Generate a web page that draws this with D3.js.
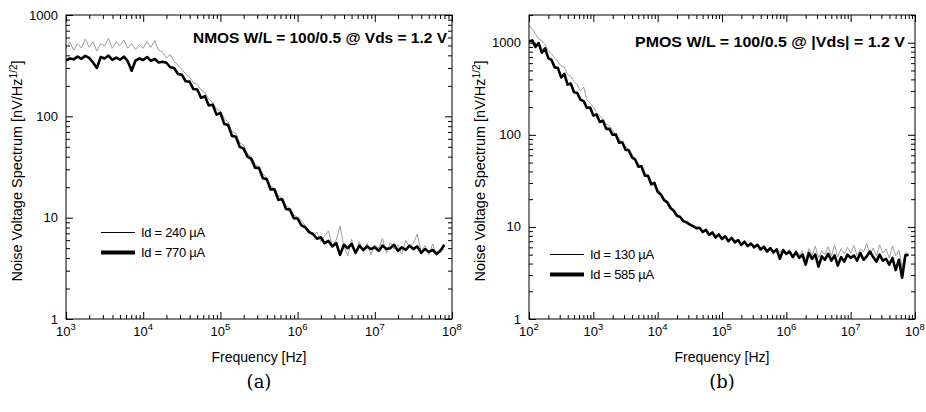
<!DOCTYPE html>
<html>
<head>
<meta charset="utf-8">
<script src="https://cdn.jsdelivr.net/npm/d3@7"></script>
<style>
  body { margin: 0; background: #fff; }
  text { font-family: "Liberation Sans", Arial, sans-serif; fill: #000; }
</style>
</head>
<body>
<div id="chart"></div>
<script>
// log10 of frequency, panel (a) NMOS
let expA = [
  3.00,3.05,3.10,3.15,3.20,3.25,3.30,3.35,3.40,3.45,3.50,3.55,3.60,3.65,3.70,3.75,3.80,3.85,3.90,3.95,
  4.00,4.05,4.10,4.15,4.20,4.25,4.30,4.35,4.40,4.45,4.50,4.55,4.60,4.65,4.70,4.75,4.80,4.85,4.90,4.95,
  5.00,5.05,5.10,5.15,5.20,5.25,5.30,5.35,5.40,5.45,5.50,5.55,5.60,5.65,5.70,5.75,5.80,5.85,5.90,5.95,
  6.00,6.05,6.10,6.15,6.20,6.25,6.30,6.35,6.40,6.45,6.50,6.55,6.60,6.65,6.70,6.75,6.80,6.85,6.90,6.95,
  7.00,7.05,7.10,7.15,7.20,7.25,7.30,7.35,7.40,7.45,7.50,7.55,7.60,7.65,7.70,7.75,7.80,7.85,7.90
];
// Id = 240 uA (thin)
let nmosThin = [
  470,540,450,520,470,580,480,545,440,525,490,590,470,540,500,565,470,520,455,510,
  470,545,480,560,450,430,378,405,352,318,292,262,246,214,206,182,170,148,137,118,
  112,96,88,70,68,55,52,43,40,34,31.5,27,25,20.5,19.5,16.5,15.6,13.2,12.4,10.6,
  10.2,9.3,8.4,7.4,6.6,7.2,5.8,6.6,7.4,5.3,6.0,8.2,5.2,4.2,6.1,4.4,5.8,4.6,5.6,4.3,
  5.4,5.0,6.2,4.5,5.7,4.9,5.4,4.4,6.0,5.1,5.6,6.9,4.6,5.3,4.3,5.5,4.2,5.0,4.8
];
// Id = 770 uA (thick)
let nmosThick = [
  355,372,365,388,370,395,378,340,300,385,372,398,360,380,362,388,350,282,355,372,
  360,385,352,368,340,345,338,305,300,262,258,222,220,186,184,152,158,128,130,104,
  108,84,82,64,63,50,48,40,38,31,31,24.5,24,19,19,15,15.2,12.2,12,9.9,
  9.8,8.4,8.0,7.2,6.9,6.2,6.4,5.6,5.9,5.2,5.6,4.3,5.4,5.0,5.5,4.5,5.3,4.8,5.2,4.9,
  5.1,4.7,5.3,4.9,5.0,5.4,4.7,5.1,4.8,5.3,4.9,5.2,4.5,4.9,4.6,4.8,4.4,4.7,5.4
];

// log10 of frequency, panel (b) PMOS
let expB = [
  2.00,2.05,2.10,2.15,2.20,2.25,2.30,2.35,2.40,2.45,2.50,2.55,2.60,2.65,2.70,2.75,2.80,2.85,2.90,2.95,
  3.00,3.05,3.10,3.15,3.20,3.25,3.30,3.35,3.40,3.45,3.50,3.55,3.60,3.65,3.70,3.75,3.80,3.85,3.90,3.95,
  4.00,4.05,4.10,4.15,4.20,4.25,4.30,4.35,4.40,4.45,4.50,4.55,4.60,4.65,4.70,4.75,4.80,4.85,4.90,4.95,
  5.00,5.05,5.10,5.15,5.20,5.25,5.30,5.35,5.40,5.45,5.50,5.55,5.60,5.65,5.70,5.75,5.80,5.85,5.90,5.95,
  6.00,6.05,6.10,6.15,6.20,6.25,6.30,6.35,6.40,6.45,6.50,6.55,6.60,6.65,6.70,6.75,6.80,6.85,6.90,6.95,
  7.00,7.05,7.10,7.15,7.20,7.25,7.30,7.35,7.40,7.45,7.50,7.55,7.60,7.65,7.70,7.75,7.80,7.85,7.90
];
// Id = 130 uA (thin)
let pmosThin = [
  1550,1400,1250,1100,1050,950,820,760,680,620,560,540,450,430,380,350,300,330,240,220,
  200,175,160,148,132,125,112,100,92,82,76,68,62,55,49,45,39,36,31,29.5,
  26,23,20.5,18.5,16.8,15,13.8,12.5,12,11,10.9,10.2,9.8,9.6,8.8,9.3,8.0,8.5,7.4,8.1,
  7.2,7.8,7.0,7.4,6.6,7.3,6.3,7.0,6.1,6.7,5.9,6.5,5.6,6.2,5.5,6.0,5.0,5.9,5.3,5.8,
  5.2,5.7,4.8,5.6,5.0,5.5,4.4,5.8,4.9,6.2,4.6,5.5,5.0,6.1,4.8,6.4,4.7,5.8,5.1,6.0,
  5.2,6.3,4.9,5.7,5.4,6.6,5.0,5.9,4.8,6.4,5.2,5.8,4.6,6.2,4.9,5.6,3.6,5.3,4.8
];
// Id = 585 uA (thick)
let pmosThick = [
  1030,1060,900,990,780,870,680,650,540,530,420,460,350,360,290,285,240,232,196,198,
  162,166,138,142,116,116,100,101,82,83,69,68,57,54,45,45.5,36,36,29,30,
  24,22.5,19.5,18.5,16,15,13.2,12.8,11.5,11.2,10.6,10.2,9.7,9.8,8.8,9.3,8.2,8.7,7.7,8.3,
  7.4,7.9,7.0,7.6,6.8,7.2,6.4,6.9,6.2,6.6,6.0,6.4,5.7,6.1,5.4,5.9,5.3,5.7,4.5,5.6,
  5.1,5.4,4.7,5.3,4.6,5.0,3.9,5.2,4.5,5.0,3.7,4.8,4.4,5.1,4.3,4.9,3.8,4.7,4.2,5.0,
  4.6,4.9,4.3,5.2,4.4,4.8,5.4,4.7,4.2,5.0,4.3,4.5,3.9,4.6,3.4,4.4,2.8,4.9,5.0
];

let yTickValues = [1, 10, 100, 1000];

let panels = [
  {
    id: "a", left: 66, right: 452, xDomain: [1e3, 1e8], yDomain: [1, 1000],
    xExps: [3, 4, 5, 6, 7, 8], freq: expA, thin: nmosThin, thick: nmosThick,
    title: "NMOS W/L = 100/0.5 @ Vds = 1.2 V", titleRight: 447, titleY: 43, titleLen: 254,
    legend: ["Id = 240 \u00b5A", "Id = 770 \u00b5A"], legendX: 101, legendY: 232
  },
  {
    id: "b", left: 529, right: 915, xDomain: [1e2, 1e8], yDomain: [1, 2000],
    xExps: [2, 3, 4, 5, 6, 7, 8], freq: expB, thin: pmosThin, thick: pmosThick,
    title: "PMOS W/L = 100/0.5 @ |Vds| = 1.2 V", titleRight: 905, titleY: 47, titleLen: 270,
    legend: ["Id = 130 \u00b5A", "Id = 585 \u00b5A"], legendX: 550, legendY: 254
  }
];

let plotTop = 15, plotBottom = 319;

let svg = d3.select("#chart")
  .append("svg")
    .attr("width", 926)
    .attr("height", 412);

function minorTicks(domain) {
  let out = [];
  let lo = Math.round(Math.log10(domain[0])), hi = Math.ceil(Math.log10(domain[1]));
  for (let e = lo; e < hi; e++) {
    for (let m = 2; m <= 9; m++) {
      let v = m * Math.pow(10, e);
      if (v <= domain[1]) out.push(v);
    }
  }
  return out;
}

panels.forEach(function(p) {
  let x = d3.scaleLog().domain(p.xDomain).range([p.left, p.right]);
  let y = d3.scaleLog().domain(p.yDomain).range([plotBottom, plotTop]);
  let g = svg.append("g");

  let xMajor = p.xExps.map(e => Math.pow(10, e));
  let xMinor = minorTicks(p.xDomain);
  let yMajor = yTickValues.filter(v => v <= p.yDomain[1]);
  let yMinor = minorTicks(p.yDomain);

  // inward ticks on all four sides
  function tickAxis(axisFn, scale, values, size, transform) {
    g.append("g")
      .attr("transform", transform)
      .call(axisFn(scale).tickValues(values).tickSize(size).tickFormat(""))
      .call(s => s.select(".domain").remove())
      .selectAll("line").attr("stroke", "#000").attr("stroke-width", 1);
  }
  tickAxis(d3.axisBottom, x, xMajor, -7, "translate(0," + plotBottom + ")");
  tickAxis(d3.axisBottom, x, xMinor, -4, "translate(0," + plotBottom + ")");
  tickAxis(d3.axisTop, x, xMajor, -7, "translate(0," + plotTop + ")");
  tickAxis(d3.axisTop, x, xMinor, -4, "translate(0," + plotTop + ")");
  tickAxis(d3.axisLeft, y, yMajor, -7, "translate(" + p.left + ",0)");
  tickAxis(d3.axisLeft, y, yMinor, -4, "translate(" + p.left + ",0)");
  tickAxis(d3.axisRight, y, yMajor, -7, "translate(" + p.right + ",0)");
  tickAxis(d3.axisRight, y, yMinor, -4, "translate(" + p.right + ",0)");

  // clip for the spectra
  svg.append("clipPath").attr("id", "clip" + p.id)
    .append("rect")
      .attr("x", p.left).attr("y", plotTop)
      .attr("width", p.right - p.left).attr("height", plotBottom - plotTop);

  let line = d3.line()
    .x(d => x(Math.pow(10, d[0])))
    .y(d => y(d[1]));

  let thinData = p.freq.map((e, i) => [e, p.thin[i]]);
  let thickData = p.freq.map((e, i) => [e, p.thick[i]]);

  let lines = g.append("g").attr("clip-path", "url(#clip" + p.id + ")");
  lines.append("path")
    .datum(thinData)
    .attr("d", line)
    .attr("fill", "none")
    .attr("stroke", "#939393")
    .attr("stroke-width", 0.9)
    .attr("stroke-linejoin", "round");
  lines.append("path")
    .datum(thickData)
    .attr("d", line)
    .attr("fill", "none")
    .attr("stroke", "#000")
    .attr("stroke-width", 2.6)
    .attr("stroke-linejoin", "round");

  // frame
  g.append("rect")
    .attr("x", p.left).attr("y", plotTop)
    .attr("width", p.right - p.left).attr("height", plotBottom - plotTop)
    .attr("fill", "none")
    .attr("stroke", "#000")
    .attr("stroke-width", 1);

  // x tick labels 10^n
  g.selectAll(".xlab")
    .data(p.xExps)
    .enter()
    .append("text")
      .attr("x", d => x(Math.pow(10, d)))
      .attr("y", 336)
      .attr("text-anchor", "middle")
      .attr("font-size", "13px")
      .each(function(d) {
        let t = d3.select(this);
        t.append("tspan").text("10");
        t.append("tspan").attr("dy", -6).attr("font-size", "9.5px").text(d);
      });

  // y tick labels
  g.selectAll(".ylab")
    .data(yMajor)
    .enter()
    .append("text")
      .attr("x", p.left - 8)
      .attr("y", d => y(d) + 4.5)
      .attr("text-anchor", "end")
      .attr("font-size", "13px")
      .text(d => d);

  // axis titles
  let cx = (p.left + p.right) / 2;
  g.append("text")
    .attr("x", cx)
    .attr("y", 362)
    .attr("text-anchor", "middle")
    .attr("font-size", "14px")
    .text("Frequency [Hz]");

  let yl = g.append("text")
    .attr("transform", "translate(" + (p.left - 44) + "," + ((plotTop + plotBottom) / 2 + 4) + ") rotate(-90)")
    .attr("text-anchor", "middle")
    .attr("font-size", "14.5px");
  yl.append("tspan").text("Noise Voltage Spectrum [nV/Hz");
  yl.append("tspan").attr("dy", -5.5).attr("font-size", "10px").text("1/2");
  yl.append("tspan").attr("dy", 5.5).text("]");

  // panel title
  g.append("text")
    .attr("x", p.titleRight)
    .attr("y", p.titleY)
    .attr("text-anchor", "end")
    .attr("font-size", "14px")
    .attr("font-weight", "bold")
    .attr("textLength", p.titleLen)
    .attr("lengthAdjust", "spacingAndGlyphs")
    .text(p.title);

  // legend
  [0, 1].forEach(function(i) {
    let ly = p.legendY + i * 20 + 0.5;
    g.append("line")
      .attr("x1", p.legendX).attr("x2", p.legendX + 34)
      .attr("y1", ly).attr("y2", ly)
      .attr("stroke", "#000")
      .attr("stroke-width", i === 0 ? 1 : 4);
    g.append("text")
      .attr("x", p.legendX + 40)
      .attr("y", ly + 4.5)
      .attr("font-size", "13px")
      .attr("letter-spacing", "-0.3px")
      .text(p.legend[i]);
  });

  // sub-caption, serif like the LaTeX caption
  g.append("text")
    .attr("x", cx)
    .attr("y", 388)
    .attr("text-anchor", "middle")
    .style("font-family", "'DejaVu Serif', 'Liberation Serif', serif")
    .attr("font-size", "18px")
    .text("(" + p.id + ")");
});
</script>
</body>
</html>
